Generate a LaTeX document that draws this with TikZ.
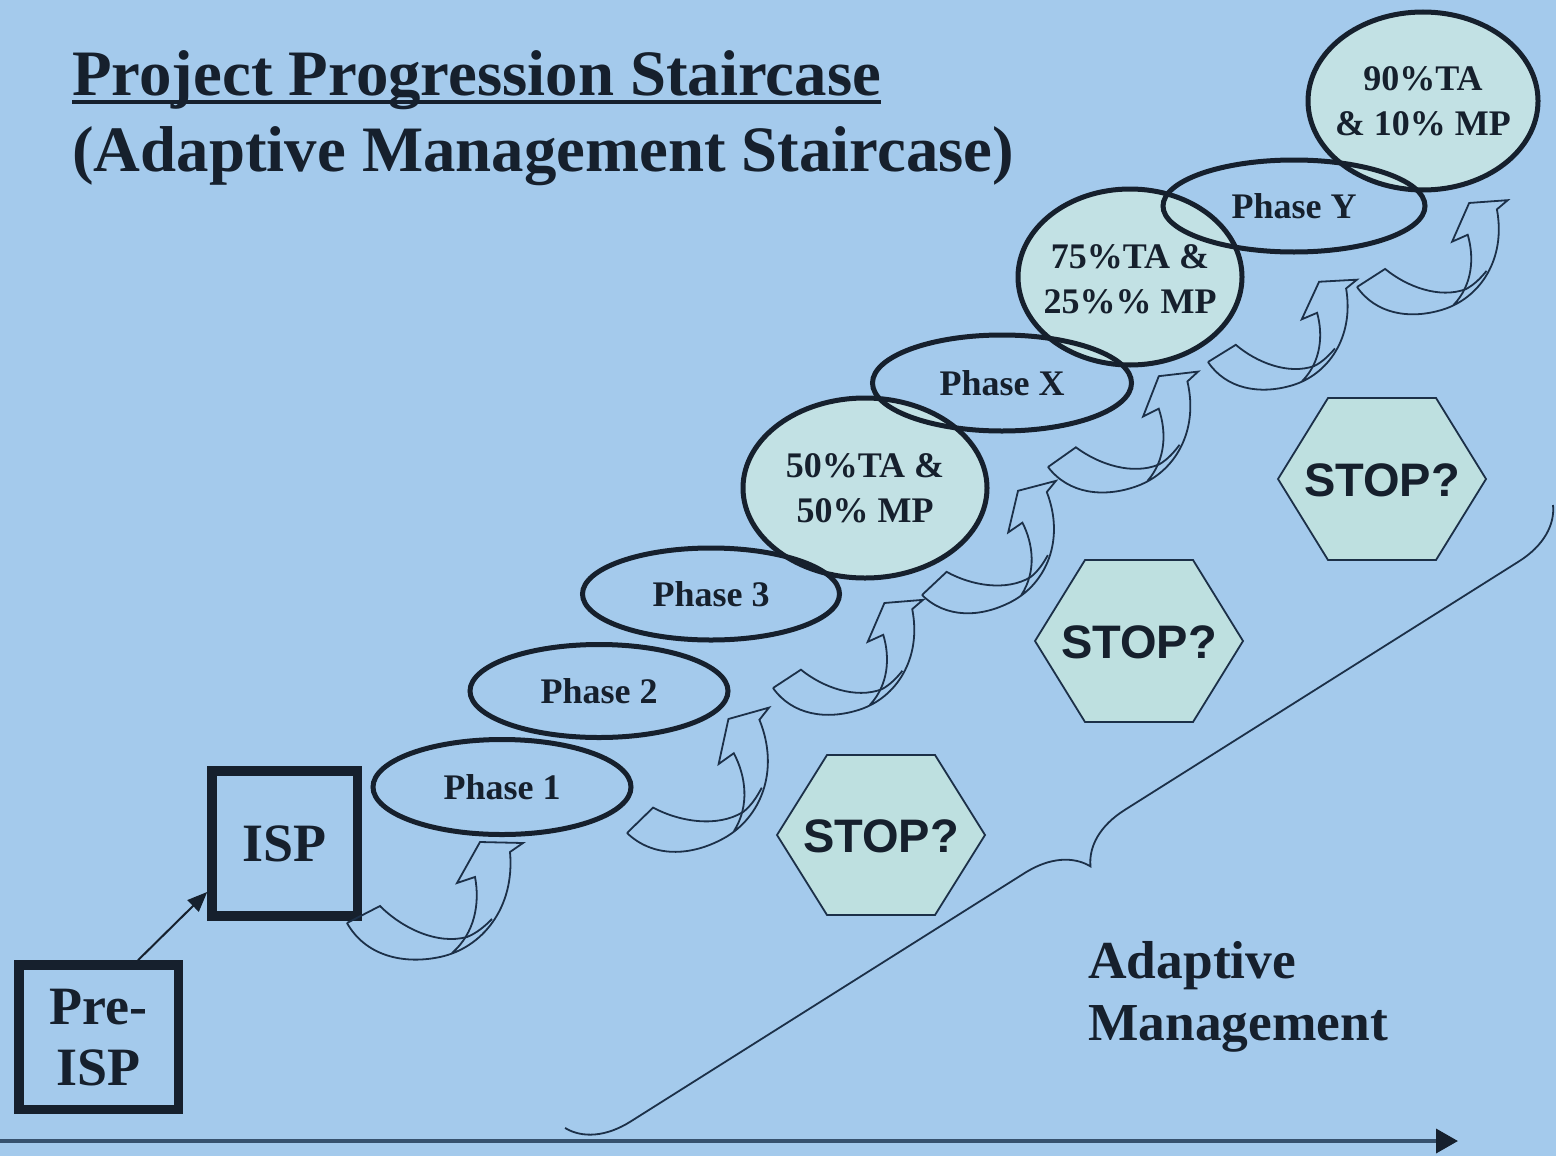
\documentclass[tikz,border=0pt]{standalone}
\usepackage{fontspec}
\setmainfont{Liberation Serif}
\newfontfamily\arialfont{Liberation Sans}
\usetikzlibrary{shapes.geometric,arrows.meta,decorations.pathreplacing,calc}
\definecolor{bgblue}{RGB}{164,202,236}
\definecolor{paleCyan}{RGB}{194,225,228}
\definecolor{hexfill}{RGB}{190,224,224}
\definecolor{ink}{RGB}{22,32,45}
\definecolor{linenavy}{RGB}{28,48,72}
\definecolor{axisgrey}{RGB}{55,82,110}
\tikzset{
  curvyline/.style={draw=linenavy, line width=0.9pt, line join=miter},
  curvy/.pic={
    \draw[curvyline] (0,0) .. controls (18,32) and (55,42) .. (93,34)
      .. controls (135,25) and (168,-15) .. (163,-71) -- (176,-80) -- (133,-81)
      -- (110,-40) -- (128,-46) .. controls (133,-20) and (128,10) .. (105,30);
    \draw[curvyline] (0,0) -- (33,-17) .. controls (55,5) and (90,22) .. (120,14)
      .. controls (130,10) and (138,3) .. (145,-4);
  }
}
\begin{document}
\begin{tikzpicture}[x=0.5pt,y=-0.5pt,
  every node/.style={text=ink},
  phase/.style={ellipse, draw=ink, line width=2.5pt, inner sep=0pt,
    font=\fontsize{18}{22}\selectfont\bfseries},
  share/.style={ellipse, draw=ink, line width=2.5pt, inner sep=0pt, fill=paleCyan},
  sharetext/.style={inner sep=0pt, align=center,
    font=\fontsize{18}{22.5}\selectfont\bfseries},
  boxnode/.style={rectangle, draw=ink, line width=4.75pt, inner sep=0pt,
    align=center, font=\fontsize{27}{30.5}\selectfont\bfseries},
  hexshape/.style={draw=linenavy, line width=0.9pt, fill=hexfill, line join=miter},
  stoptext/.style={inner sep=0pt, font=\arialfont\bfseries\fontsize{23.5}{28}\selectfont},
  titletext/.style={inner sep=0pt, anchor=base west, font=\fontsize{32.4}{38}\selectfont\bfseries},
  amtext/.style={inner sep=0pt, anchor=west, align=left, font=\fontsize{26.7}{31}\selectfont\bfseries}
]
\useasboundingbox (0,0) rectangle (1556,1156);
\fill[bgblue] (0,0) rectangle (1556,1156);

% title
\node[titletext] (title1) at (72,96) {Project Progression Staircase};
\node[titletext] (title2) at (72,171) {(Adaptive Management Staircase)};
\draw[ink, line width=2pt] ([yshift=-2.8pt]title1.base west) -- ([yshift=-2.8pt]title1.base east);

% boxes
\node[boxnode, minimum width=79.75pt, minimum height=72.25pt] (preisp) at (98.75,1037.25) {Pre-\\ISP};
\node[boxnode, minimum width=72.75pt, minimum height=72.5pt] (isp) at (284.75,843.5) {ISP};
\draw[ink, line width=1pt, -{Triangle[length=10pt,width=8pt]}] (preisp.63) -- (isp.212);

% share ellipses
\node[share, minimum width=122pt, minimum height=90pt] (ta50) at (865,488) {};
\node[sharetext] (ta50t) at (ta50.center) {50\%TA \&\\50\% MP};
\node[share, minimum width=112pt, minimum height=88pt] (ta75) at (1130,277) {};
\node[sharetext] (ta75t) at ([yshift=-1pt]ta75.center) {75\%TA \&\\25\%\% MP};
\node[share, minimum width=115pt, minimum height=89pt] (ta90) at (1423,101) {};
\node[sharetext] (ta90t) at (ta90.center) {90\%TA\\\& 10\% MP};

% phase ellipses
\node[phase, minimum width=129pt, minimum height=47.5pt] (p1) at (502,787) {Phase 1};
\node[phase, minimum width=129pt, minimum height=46.5pt] (p2) at (599,691) {Phase 2};
\node[phase, minimum width=128.5pt, minimum height=46pt] (p3) at (711,594) {Phase 3};
\node[phase, minimum width=129.5pt, minimum height=48pt] (px) at (1002,383) {Phase X};
\node[phase, minimum width=131pt, minimum height=46pt] (py) at (1294,206) {Phase Y};

% stop hexagons
\draw[hexshape, shift={(881,835)}] (-54,-80) -- (54,-80) -- (104,0) -- (54,80) -- (-54,80) -- (-104,0) -- cycle;
\node[stoptext] (stop1) at (881,836) {STOP?};
\draw[hexshape, shift={(1139,641)}] (-54,-81) -- (54,-81) -- (104,0) -- (54,81) -- (-54,81) -- (-104,0) -- cycle;
\node[stoptext] (stop2) at (1139,642) {STOP?};
\draw[hexshape, shift={(1382,479)}] (-54,-81) -- (54,-81) -- (104,0) -- (54,81) -- (-54,81) -- (-104,0) -- cycle;
\node[stoptext] (stop3) at (1382,480) {STOP?};

% curved block arrows
\pic at (347,923) {curvy};
\pic[rotate=17, scale=0.98] at (627,833) {curvy};
\pic[rotate=6, scale=0.9] at (773,688) {curvy};
\pic[rotate=16, scale=0.91] at (922,595) {curvy};
\pic[rotate=8, scale=0.92] at (1048,467) {curvy};
\pic[rotate=4.5, scale=0.88] at (1208,362) {curvy};
\pic[rotate=5.5, scale=0.9] at (1357,287) {curvy};

% brace
\coordinate (braceTop) at (1553,505);
\coordinate (braceBot) at (565,1128);
\draw[linenavy, line width=0.9pt, decorate, decoration={brace, amplitude=29.5pt, aspect=0.5}] (braceTop) -- (braceBot);
\node[amtext] (am) at (1088,997) {Adaptive\\Management};

% axis
\coordinate (axisL) at (0,1141);
\coordinate (axisR) at (1458,1141);
\draw[axisgrey, line width=1.8pt, -{Triangle[length=11pt,width=12pt,color=ink]}] (axisL) -- (axisR);
\end{tikzpicture}
\end{document}
